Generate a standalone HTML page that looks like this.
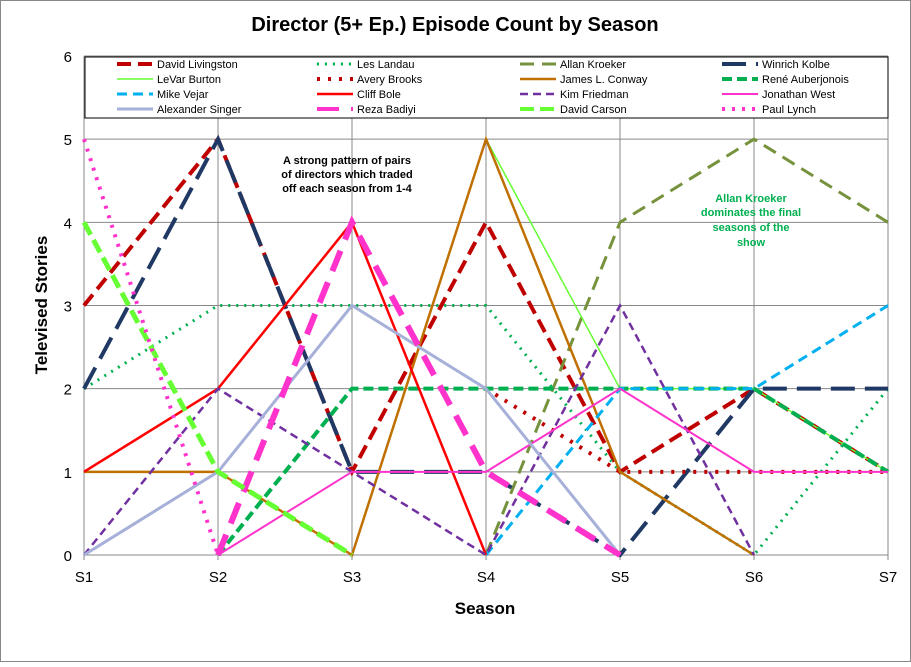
<!DOCTYPE html>
<html><head><meta charset="utf-8"><style>
body{margin:0;background:#fff;font-family:"Liberation Sans",sans-serif}
</style></head><body>
<svg id="c" width="911" height="662" xmlns="http://www.w3.org/2000/svg" font-family="Liberation Sans, sans-serif">
<rect x="0.5" y="0.5" width="910" height="661" fill="#fff" stroke="#888"/>
<text x="455" y="31" text-anchor="middle" font-size="20" font-weight="bold">Director (5+ Ep.) Episode Count by Season</text>
<g id="grid"></g><g id="series"></g><g id="legend"></g>
<text x="47" y="305" transform="rotate(-90 47 305)" text-anchor="middle" font-size="17" font-weight="bold">Televised Stories</text>
<text x="485" y="614" text-anchor="middle" font-size="17" font-weight="bold">Season</text>
<g font-size="11" font-weight="bold" text-anchor="middle">
<text x="347" y="164">A strong pattern of pairs</text><text x="347" y="178">of directors which traded</text><text x="347" y="192">off each season from 1-4</text></g>
<g font-size="11" font-weight="bold" text-anchor="middle" fill="#00B050">
<text x="751" y="202">Allan Kroeker</text><text x="751" y="216">dominates the final</text><text x="751" y="231">seasons of the</text><text x="751" y="246">show</text></g>
</svg>
<script>
const categories=["S1","S2","S3","S4","S5","S6","S7"];
const yTicks=[0,1,2,3,4,5,6];
const names=["David Livingston","Les Landau","Allan Kroeker","Winrich Kolbe","LeVar Burton","Avery Brooks","James L. Conway","René Auberjonois","Mike Vejar","Cliff Bole","Kim Friedman","Jonathan West","Alexander Singer","Reza Badiyi","David Carson","Paul Lynch"];
const sLivingston=[3,5,1,4,1,2,1];
const sLandau=[2,3,3,3,1,0,2];
const sKroeker=[null,null,null,0,4,5,4];
const sKolbe=[2,5,1,1,0,2,2];
const sBurton=[null,null,null,5,2,2,1];
const sBrooks=[null,null,null,2,1,1,1];
const sConway=[1,1,0,5,1,0,null];
const sAuberjonois=[null,0,2,2,2,2,1];
const sVejar=[null,null,null,0,2,2,3];
const sBole=[1,2,4,0,null,null,null];
const sFriedman=[0,2,1,0,3,0,null];
const sWest=[null,0,1,1,2,1,1];
const sSinger=[0,1,3,2,0,null,null];
const sBadiyi=[null,0,4,1,0,null,null];
const sCarson=[4,1,0,null,null,null,null];
const sLynch=[5,0,null,null,null,null,null];
const values=[sLivingston,sLandau,sKroeker,sKolbe,sBurton,sBrooks,sConway,sAuberjonois,sVejar,sBole,sFriedman,sWest,sSinger,sBadiyi,sCarson,sLynch];
const styles=[["#C00000",4,"14 7"],["#00B050",3,"2 6"],["#76923C",3,"14 8"],["#1F3864",4,"24 10"],["#66FF33",1.5,""],["#C00000",4,"3 8"],["#C07000",2.5,""],["#00B050",4,"10 5"],["#00B0F0",3,"10 6"],["#FF0000",2.5,""],["#7030A0",2.5,"8 5"],["#FF33CC",2,""],["#A6B0D8",3,""],["#FF33CC",6,"22 12"],["#66FF33",5,"14 6"],["#FF33CC",4,"3 7"]];
const X0=84,X1=888,Y0=555,Y1=56;
const x=i=>X0+i*(X1-X0)/(categories.length-1);
const y=v=>Y0-v*(Y0-Y1)/6;
const NS="http://www.w3.org/2000/svg";
function mk(t,a,p){const e=document.createElementNS(NS,t);for(const k in a)e.setAttribute(k,a[k]);p.appendChild(e);return e;}
const g=document.getElementById('grid');
yTicks.forEach(v=>{
 const l=mk('line',{x1:X0,x2:X1,y1:y(v),y2:y(v),stroke:'#888','stroke-width':1},g);
 
 
 const t=mk('text',{x:X0-12,y:y(v)+6,'text-anchor':'end','font-size':15},g);t.textContent=v;
 
 
});
categories.forEach((c,i)=>{
 const l=mk('line',{x1:x(i),x2:x(i),y1:Y1,y2:Y0+5,stroke:'#888','stroke-width':1},g);
 
 
 const t=mk('text',{x:x(i),y:Y0+27,'text-anchor':'middle','font-size':15},g);t.textContent=c;
 
 
});
const s=document.getElementById('series');
values.forEach((arr,k)=>{
 let d="",pen=false;
 arr.forEach((v,i)=>{if(v===null){pen=false;return;}d+=(pen?"L":"M")+x(i)+","+y(v);pen=true;});
 const p=mk('path',{d:d,fill:'none',stroke:styles[k][0],'stroke-width':styles[k][1],'stroke-dasharray':styles[k][2]},s);
 
 
});
const lg=document.getElementById('legend');
const box=mk('rect',{x:85,y:57,width:803,height:61,fill:'#fff',stroke:'#000','stroke-width':1},lg);


const colX=[117,317,520,722],rowY=[64,79,94,109];
names.forEach((n,k)=>{
 const cx=colX[k%4],cy=rowY[Math.floor(k/4)];
 const l=mk('line',{x1:cx,x2:cx+36,y1:cy,y2:cy,stroke:styles[k][0],'stroke-width':Math.min(styles[k][1],4),'stroke-dasharray':styles[k][2]},lg);
 
 
 const t=mk('text',{x:cx+40,y:cy+4,'font-size':11},lg);t.textContent=n;
 
 
});
</script>
</body></html>
